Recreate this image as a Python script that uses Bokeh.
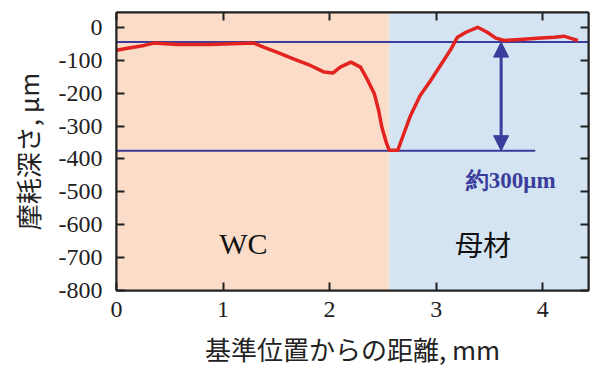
from bokeh.plotting import figure
from bokeh.models import (Range1d, LinearAxis, FixedTicker, BoxAnnotation, Arrow,
                          NormalHead, Label, ColumnDataSource, CustomJSTickFormatter)
from bokeh.embed import file_html
from bokeh.resources import INLINE

# ---- data ----
dist_mm = [0.00, 0.13, 0.26, 0.35, 0.57, 0.88, 1.29, 1.38, 1.51, 1.66, 1.82, 1.95,
           2.03, 2.10, 2.20, 2.29, 2.35, 2.42, 2.46, 2.49, 2.53, 2.56, 2.64, 2.68,
           2.76, 2.85, 2.95, 3.04, 3.14, 3.20, 3.28, 3.39, 3.48, 3.56, 3.64, 3.79,
           3.95, 4.11, 4.20, 4.28, 4.33]
depth_um = [-70, -62, -55, -48, -52, -52, -48, -60, -76, -96, -116, -136,
            -139, -121, -106, -121, -156, -202, -252, -303, -348, -374, -374, -338,
            -268, -207, -161, -116, -66, -30, -15, 0, -15, -33, -40, -37,
            -33, -30, -27, -35, -40]
wc_end = 2.56
upper_level = -45
lower_level = -375
lower_line_end = 3.93
arrow_x = 3.61
x_ticks = [0, 1, 2, 3, 4]
y_ticks = [0, -100, -200, -300, -400, -500, -600, -700, -800]
y_tick_labels = {t: str(t) for t in y_ticks}

W, H = 595, 369
p = figure(width=W, height=H, output_backend="svg", toolbar_location=None,
           x_range=Range1d(0, 4.43), y_range=Range1d(-800, 45),
           min_border_left=116, min_border_right=7, min_border_top=12, min_border_bottom=79)
p.grid.visible = False
p.background_fill_color = "white"
p.border_fill_color = "white"
p.outline_line_color = "#222222"
p.outline_line_width = 2

# region backgrounds
p.add_layout(BoxAnnotation(left=0, right=wc_end, fill_color="#fbdcc8", fill_alpha=1.0, line_alpha=0, level="underlay"))
p.add_layout(BoxAnnotation(left=wc_end, fill_color="#d5e4f2", fill_alpha=1.0, line_alpha=0, level="underlay"))

blue = "#3a3d9c"
seg = ColumnDataSource(dict(x0=[0, 0], y0=[upper_level, lower_level],
                            x1=[4.43, lower_line_end], y1=[upper_level, lower_level]))
p.segment("x0", "y0", "x1", "y1", source=seg, line_color=blue, line_width=2)

p.line(dist_mm, depth_um, line_color="#e3231f", line_width=3.5, line_join="round")

p.add_layout(Arrow(start=NormalHead(size=15, fill_color=blue, line_color=blue),
                   end=NormalHead(size=15, fill_color=blue, line_color=blue),
                   x_start=arrow_x, y_start=lower_level, x_end=arrow_x, y_end=upper_level,
                   line_color=blue, line_width=3))

p.add_layout(Label(x=3.7, y=-465, text="約300μm", text_align="center", text_baseline="middle",
                   text_font="Liberation Serif", text_font_style="bold",
                   text_font_size="23px", text_color=blue))
p.add_layout(Label(x=1.19, y=-656, text="WC", text_align="center", text_baseline="middle",
                   text_font="Liberation Serif", text_font_size="30px", text_color="#111111"))
p.add_layout(Label(x=3.44, y=-660, text="母材", text_align="center", text_baseline="middle",
                   text_font="Noto Sans CJK JP", text_font_size="28px", text_color="#111111"))

# axes
def style(ax, labels=True):
    ax.axis_line_color = "#222222"
    ax.axis_line_width = 2
    ax.major_tick_in = 8
    ax.major_tick_out = 0
    ax.major_tick_line_width = 2
    ax.major_tick_line_color = "#222222"
    ax.minor_tick_in = 0
    ax.minor_tick_out = 0
    if labels:
        ax.major_label_text_font = "Liberation Serif"
        ax.major_label_text_font_size = "24px"
        ax.major_label_text_color = "#222222"
    else:
        ax.formatter = CustomJSTickFormatter(code="return ''")
        ax.major_label_standoff = 0

xa = p.xaxis[0]
xa.ticker = FixedTicker(ticks=x_ticks)
style(xa)
xa.major_label_standoff = 11
xa.axis_label = "基準位置からの距離, mm"
xa.axis_label_text_font = "Noto Sans CJK JP"
xa.axis_label_text_font_style = "normal"
xa.axis_label_text_font_size = "26px"
xa.axis_label_text_color = "#222222"
xa.axis_label_standoff = 10

ya = p.yaxis[0]
ya.ticker = FixedTicker(ticks=y_ticks)
ya.major_label_overrides = y_tick_labels
style(ya)
ya.major_label_standoff = 14
ya.axis_label = "摩耗深さ, μm"
ya.axis_label_text_font = "Noto Sans CJK JP"
ya.axis_label_text_font_style = "normal"
ya.axis_label_text_font_size = "26px"
ya.axis_label_text_color = "#222222"
ya.axis_label_standoff = 10

ta = LinearAxis(ticker=FixedTicker(ticks=x_ticks))
style(ta, labels=False)
p.add_layout(ta, "above")
ra = LinearAxis(ticker=FixedTicker(ticks=y_ticks))
style(ra, labels=False)
p.add_layout(ra, "right")

open("out.html", "w").write(file_html(p, INLINE))
